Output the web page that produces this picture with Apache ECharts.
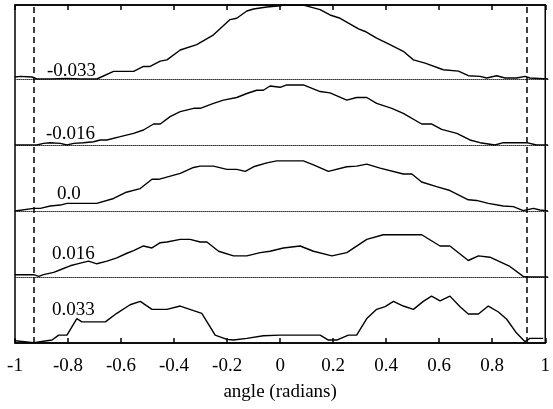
<!DOCTYPE html>
<html>
<head>
<meta charset="utf-8">
<script src="https://cdn.jsdelivr.net/npm/echarts@6/dist/echarts.min.js"></script>
<style>
  html, body { margin: 0; padding: 0; background: #fff; }
  #chart { width: 553px; height: 409px; }
</style>
</head>
<body>
<div id="chart"></div>
<script>
// 每个面板的角度与强度（强度以面板间距为 1）
var panelNames = ['-0.033', '-0.016', '0.0', '0.016', '0.033'];

var angle1 = [-1, -0.98, -0.936, -0.918, -0.868, -0.805, -0.755, -0.693, -0.63, -0.555, -0.518, -0.493, -0.455, -0.43, -0.38, -0.318, -0.255, -0.193, -0.168, -0.13, -0.105, -0.055, -0.005, 0.007, 0.082, 0.145, 0.182, 0.22, 0.289, 0.314, 0.357, 0.407, 0.457, 0.495, 0.539, 0.607, 0.664, 0.701, 0.745, 0.77, 0.807, 0.839, 0.882, 0.914, 0.932, 1];
var level1 = [0.03, 0.04, 0.03, 0, 0, 0.01, 0, 0, 0.116, 0.116, 0.19, 0.19, 0.27, 0.29, 0.44, 0.52, 0.67, 0.9, 0.92, 1.03, 1.06, 1.09, 1.11, 1.12, 1.12, 1.05, 0.97, 0.92, 0.76, 0.72, 0.62, 0.52, 0.42, 0.29, 0.24, 0.14, 0.12, 0.05, 0.04, 0.015, 0.05, 0.015, 0.015, 0.04, 0.015, 0];

var angle2 = [-1, -0.918, -0.893, -0.868, -0.83, -0.805, -0.78, -0.743, -0.705, -0.68, -0.655, -0.605, -0.555, -0.518, -0.48, -0.455, -0.418, -0.38, -0.33, -0.305, -0.255, -0.218, -0.168, -0.13, -0.093, -0.068, -0.043, -0.005, 0.02, 0.082, 0.145, 0.182, 0.245, 0.282, 0.32, 0.357, 0.414, 0.457, 0.526, 0.564, 0.601, 0.658, 0.707, 0.745, 0.801, 0.832, 0.92, 0.957, 1];
var level2 = [0, 0, 0.025, 0.035, 0.025, 0, 0.025, 0.035, 0.05, 0.076, 0.076, 0.126, 0.177, 0.227, 0.318, 0.318, 0.43, 0.505, 0.556, 0.556, 0.63, 0.68, 0.72, 0.78, 0.83, 0.83, 0.894, 0.874, 0.91, 0.91, 0.81, 0.79, 0.68, 0.72, 0.72, 0.63, 0.556, 0.48, 0.318, 0.318, 0.237, 0.177, 0.076, 0.035, 0, 0.035, 0.035, 0, 0];

var angle3 = [-1, -0.93, -0.905, -0.868, -0.83, -0.805, -0.693, -0.63, -0.586, -0.53, -0.486, -0.461, -0.38, -0.33, -0.305, -0.255, -0.205, -0.168, -0.136, -0.105, -0.055, -0.018, 0.082, 0.12, 0.176, 0.245, 0.282, 0.32, 0.37, 0.457, 0.489, 0.526, 0.582, 0.632, 0.701, 0.732, 0.776, 0.832, 0.87, 0.907, 0.945, 0.97, 1];
var level3 = [0, 0.04, 0.04, 0.076, 0.09, 0.116, 0.116, 0.19, 0.28, 0.34, 0.48, 0.48, 0.57, 0.66, 0.68, 0.68, 0.63, 0.63, 0.6, 0.67, 0.73, 0.76, 0.76, 0.7, 0.6, 0.67, 0.68, 0.71, 0.65, 0.56, 0.56, 0.44, 0.37, 0.31, 0.17, 0.16, 0.116, 0.076, 0.066, 0.005, 0.04, 0.015, 0];

var angle4 = [-1, -0.93, -0.911, -0.893, -0.855, -0.83, -0.793, -0.755, -0.724, -0.693, -0.655, -0.618, -0.58, -0.555, -0.518, -0.486, -0.455, -0.43, -0.38, -0.343, -0.305, -0.28, -0.236, -0.18, -0.13, -0.08, -0.043, 0.007, 0.07, 0.12, 0.189, 0.245, 0.32, 0.382, 0.526, 0.595, 0.632, 0.701, 0.739, 0.782, 0.857, 0.907, 0.932, 1];
var level4 = [0.035, 0.035, 0.01, 0.035, 0.07, 0.11, 0.17, 0.21, 0.24, 0.2, 0.24, 0.29, 0.36, 0.4, 0.47, 0.44, 0.52, 0.53, 0.57, 0.57, 0.53, 0.53, 0.39, 0.32, 0.32, 0.37, 0.39, 0.44, 0.47, 0.39, 0.32, 0.37, 0.57, 0.64, 0.64, 0.47, 0.47, 0.25, 0.32, 0.3, 0.16, 0.01, 0, 0];

var angle5 = [-1, -0.93, -0.88, -0.861, -0.836, -0.805, -0.768, -0.749, -0.718, -0.661, -0.618, -0.568, -0.53, -0.486, -0.43, -0.38, -0.33, -0.299, -0.249, -0.205, -0.18, -0.13, -0.068, -0.005, 0.145, 0.176, 0.207, 0.251, 0.282, 0.32, 0.357, 0.389, 0.42, 0.457, 0.495, 0.532, 0.563, 0.595, 0.632, 0.67, 0.701, 0.739, 0.776, 0.814, 0.845, 0.882, 0.914, 0.932, 0.982];
var level5 = [0.035, 0.005, 0.035, 0.045, 0.12, 0.12, 0.37, 0.32, 0.32, 0.32, 0.45, 0.58, 0.63, 0.51, 0.51, 0.56, 0.49, 0.45, 0.12, 0.055, 0.045, 0.07, 0.11, 0.12, 0.12, 0.045, 0.045, 0.12, 0.12, 0.37, 0.51, 0.55, 0.63, 0.56, 0.51, 0.63, 0.71, 0.64, 0.71, 0.55, 0.44, 0.44, 0.56, 0.47, 0.36, 0.15, 0.02, 0.07, 0.07];

var angles = [angle1, angle2, angle3, angle4, angle5];
var levels = [level1, level2, level3, level4, level5];

// 虚线位置与刻度
var cutoffs = [-0.93, 0.93];
var angleMin = -1, angleMax = 1, angleStep = 0.2;

var chart = echarts.init(document.getElementById('chart'));

var font = 'Liberation Serif';
var panelTop = [5, 79, 145, 211, 277];
var panelHeight = [74, 66, 66, 66, 66];
var labelPos = [[47, 71], [46, 134], [57, 194], [52, 254], [52, 310]];

var grids = [], xAxes = [], yAxes = [], series = [], texts = [];

panelNames.forEach(function (name, i) {
  grids.push({ left: 15, right: 5, top: panelTop[i], height: panelHeight[i] });
  xAxes.push({
    gridIndex: i, type: 'value', min: angleMin, max: angleMax,
    axisLine: { show: i < 4, onZero: false, lineStyle: { color: '#333', width: 1, type: [1, 1] } },
    axisTick: { show: false }, axisLabel: { show: false }, splitLine: { show: false }
  });
  yAxes.push({ gridIndex: i, type: 'value', min: 0, max: panelHeight[i] / 66, show: false });
  series.push({
    name: name, type: 'line', xAxisIndex: i, yAxisIndex: i,
    data: angles[i].map(function (a, k) { return [a, levels[i][k]]; }),
    symbol: 'none', lineStyle: { color: '#000', width: 1.4 }, z: 3
  });
  texts.push({
    type: 'text', x: labelPos[i][0], y: labelPos[i][1],
    style: { text: name, font: '19px "' + font + '"', fill: '#000', verticalAlign: 'middle' }
  });
});

// 外框
grids.push({ left: 15, right: 5, top: 5, bottom: 66, show: true, borderColor: '#000', borderWidth: 1.5 });
xAxes.push({
  gridIndex: 5, type: 'value', position: 'bottom', min: angleMin, max: angleMax, interval: angleStep,
  axisLine: { onZero: false, lineStyle: { color: '#000', width: 1.5 } },
  axisTick: { inside: true, length: 5, lineStyle: { color: '#000', width: 1.5 } },
  axisLabel: { color: '#000', fontFamily: font, fontSize: 19, margin: 14 },
  splitLine: { show: false },
  name: 'angle (radians)', nameLocation: 'middle', nameGap: 40,
  nameTextStyle: { color: '#000', fontFamily: font, fontSize: 19 }
});
xAxes.push({
  gridIndex: 5, type: 'value', position: 'top', min: angleMin, max: angleMax, interval: angleStep,
  axisLine: { onZero: false, lineStyle: { color: '#000', width: 1.5 } },
  axisTick: { inside: true, length: 5, lineStyle: { color: '#000', width: 1.5 } },
  axisLabel: { show: false }, splitLine: { show: false }
});
yAxes.push({ gridIndex: 5, type: 'value', min: 0, max: 1, show: false });
series.push({
  type: 'line', xAxisIndex: 5, yAxisIndex: 5, data: [], symbol: 'none',
  markLine: {
    silent: true, symbol: 'none', label: { show: false },
    lineStyle: { color: '#000', width: 1.5, type: [6, 4] },
    data: cutoffs.map(function (c) { return { xAxis: c }; })
  }
});

chart.setOption({
  animation: false,
  backgroundColor: '#fff',
  grid: grids,
  xAxis: xAxes,
  yAxis: yAxes,
  series: series,
  graphic: texts
});
</script>
</body>
</html>
